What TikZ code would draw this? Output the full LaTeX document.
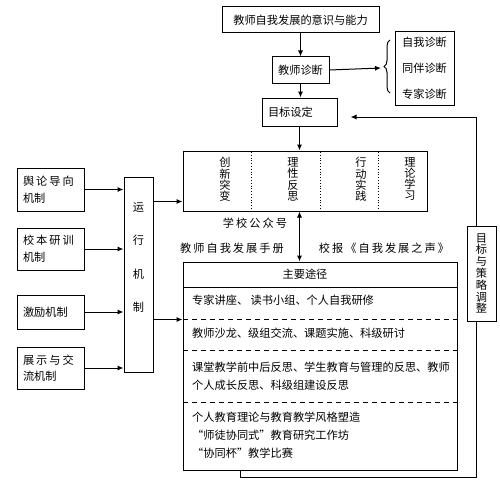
\documentclass[tikz,border=0pt]{standalone}
\usepackage{fontspec}
\setmainfont{Noto Sans CJK SC}
\newfontfamily\widecjk[LetterSpace=18]{Noto Sans CJK SC}
\usetikzlibrary{arrows.meta, decorations.pathreplacing}

\tikzset{
    box/.style={draw, line width=1pt, inner sep=0pt},
    arr/.style={line width=1pt, -{Latex[length=6pt, width=5pt]}},
    dblarr/.style={line width=1pt, {Latex[length=6pt, width=5pt]}-{Latex[length=6pt, width=5pt]}},
    txt/.style={inner sep=0pt, font=\fontsize{11.2}{13}\selectfont},
    widetxt/.style={inner sep=0pt, font={\widecjk\fontsize{11.2}{13}\selectfont}},
    rowline/.style={line width=1pt, dash pattern=on 5pt off 4pt}
}

\begin{document}
\begin{tikzpicture}[x=1pt, y=-1pt, font=\fontsize{11.2}{13}\selectfont]
    \useasboundingbox (0,0) rectangle (500,487);

    % Draw top chain
    \node[box, minimum width=157pt, minimum height=26pt] (ability) at (300.5,20) {教师自我发展的意识与能力};
    \node[box, minimum width=57pt, minimum height=26pt] (diag) at (300.5,70) {教师诊断};
    \node[box, minimum width=59pt, minimum height=73pt, align=center, font=\fontsize{11.2}{26}\selectfont] (kinds) at (424.5,68.5) {自我诊断\\同伴诊断\\专家诊断};
    \node[box, minimum width=75pt, minimum height=28pt, text width=63pt, align=left] (goal) at (299.5,112) {目标设定};
    \coordinate (bracetip) at (381,68);

    % Draw four columns
    \node[box, minimum width=244pt, minimum height=60pt] (ways) at (305,181) {};
    \node[txt, align=center, font=\fontsize{11.2}{11.3}\selectfont] (innov) at (225,179.5) {创\\新\\突\\变};
    \node[txt, align=center, font=\fontsize{11.2}{11.3}\selectfont] (reflect) at (293,179.5) {理\\性\\反\\思};
    \node[txt, align=center, font=\fontsize{11.2}{11.3}\selectfont] (practice) at (361,179.5) {行\\动\\实\\践};
    \node[txt, align=center, font=\fontsize{11.2}{11.3}\selectfont] (theory) at (410,179) {理\\论\\学\\习};
    \draw[dotted, line width=0.8pt] (251,152) -- (251,210);
    \draw[dotted, line width=0.8pt] (320,152) -- (320,210);
    \draw[dotted, line width=0.8pt] (378,152) -- (378,210);

    % Draw mechanisms
    \node[box, minimum width=67pt, minimum height=43pt, text width=55pt, align=left, font=\fontsize{11.2}{16.6}\selectfont] (opinion) at (50.5,189.5) {{\widecjk 舆论导向}\\机制};
    \node[box, minimum width=67pt, minimum height=42pt, text width=55pt, align=left, font=\fontsize{11.2}{16.6}\selectfont] (training) at (50.5,249) {{\widecjk 校本研训}\\机制};
    \node[box, minimum width=67pt, minimum height=34pt, text width=55pt, align=left] (incentive) at (50.5,312) {激励机制};
    \node[box, minimum width=67pt, minimum height=42pt, text width=55pt, align=left, font=\fontsize{11.2}{16.6}\selectfont] (exchange) at (50.5,368) {{\widecjk 展示与交}\\流机制};
    \node[box, minimum width=29pt, minimum height=195pt] (run) at (138.5,274.5) {};
    \node[txt, align=center, font=\fontsize{11.2}{33.5}\selectfont] (runtext) at (138.5,257.5) {运\\行\\机\\制};
    \coordinate (runout) at ([yshift=-25pt]run.north east);
    \coordinate (runlow) at ([yshift=-143pt]run.north east);

    % Draw main paths
    \node[box, minimum width=274pt, minimum height=208pt] (paths) at (320,366) {};
    \node[txt] (head) at (305,274.5) {主要途径};
    \draw[line width=1pt] (183,287) -- (457,287);
    \draw[rowline] (183,319) -- (457,319);
    \draw[rowline] (183,350) -- (457,350);
    \draw[rowline] (183,402) -- (457,402);
    \node[txt, anchor=west] (row1) at (192,300) {专家讲座、 读书小组、个人自我研修};
    \node[txt, anchor=west] (row2) at (192,333) {教师沙龙、级组交流、课题实施、科级研讨};
    \node[txt, anchor=west, align=left, font=\fontsize{11.2}{18}\selectfont] (row3) at (192,376) {课堂教学前中后反思、学生教育与管理的反思、教师\\个人成长反思、科级组建设反思};
    \node[txt, anchor=west, align=left, font=\fontsize{11.2}{18}\selectfont] (row4) at (192,435) {个人教育理论与教育教学风格塑造\\“师徒协同式”教育研究工作坊\\“协同杯”教学比赛};

    % Labels
    \node[widetxt] (account) at (255,223) {学校公众号};
    \node[widetxt] (handbook) at (232,248) {教师自我发展手册};
    \node[widetxt] (paper) at (384,248) {校报《自我发展之声》};
    \node[box, minimum width=29pt, minimum height=95pt, align=center, font=\fontsize{11.2}{11.8}\selectfont] (adjust) at (481.5,273.5) {目\\标\\与\\策\\略\\调\\整};

    % Draw connections
    \draw[arr] (ability) -- (diag);
    \draw[arr] (diag.east) -- (bracetip);
    \draw[line width=1pt, decorate, decoration={brace, amplitude=6pt}] (390,93) -- (390,40);
    \draw[arr] (diag.south) -- (diag.south |- goal.north);
    \draw[arr] (goal.south) -- (goal.south |- ways.north);
    \draw[dblarr] (goal.south |- ways.south) -- (goal.south |- paths.north);
    \draw[arr] (opinion.east) -- (opinion.east -| run.west);
    \draw[arr] (training.east) -- (training.east -| run.west);
    \draw[arr] (incentive.east) -- (incentive.east -| run.west);
    \draw[arr] (exchange.east) -- (exchange.east -| run.west);
    \draw[arr] (runout) -- (runout -| ways.west);
    \draw[arr] (runlow) -- (runlow -| paths.west);
    \draw[line width=1pt] ([xshift=-80pt]paths.south) -- ++(0,7) -| ([xshift=-5.5pt]adjust.south);
    \draw[arr] ([xshift=-5.5pt]adjust.north) |- ([xshift=13pt, yshift=-5pt]goal.east);
\end{tikzpicture}
\end{document}
